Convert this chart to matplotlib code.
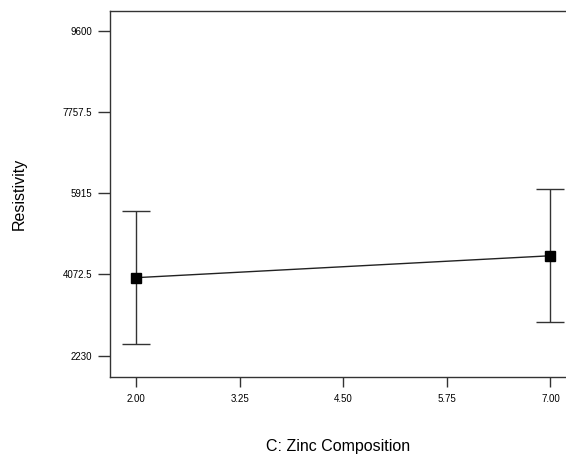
import matplotlib
matplotlib.use("Agg")
import matplotlib.pyplot as plt
import numpy as np

plt.rcParams['font.family'] = ['Liberation Sans', 'DejaVu Sans']

zinc = [2.0, 7.0]
resistivity = [4000, 4497]
ci_low = [2491, 2997]
ci_high = [5509, 6001]
xticks = [2.00, 3.25, 4.50, 5.75, 7.00]
xtick_labels = ["2.00", "3.25", "4.50", "5.75", "7.00"]
yticks = [2230, 4072.5, 5915, 7757.5, 9600]
ytick_labels = ["2230", "4072.5", "5915", "7757.5", "9600"]

fig = plt.figure(figsize=(5.66, 4.57), dpi=100)
ax = fig.add_axes([110/566, 80/457, 456/566, 366.5/457])

y = np.array(resistivity)
yerr = [y - np.array(ci_low), np.array(ci_high) - y]
ax.errorbar(zinc, resistivity, yerr=yerr, fmt='none', ecolor='#333333',
            elinewidth=1, capsize=10, capthick=1, zorder=2)
ax.plot(zinc, resistivity, color='#222222', lw=1, zorder=3)
ax.plot(zinc, resistivity, 's', color='black', markersize=7, zorder=4)

ax.set_xlim(1.686, 7.187)
ax.set_ylim(1747, 10060)
ax.set_xticks(xticks)
ax.set_xticklabels(xtick_labels)
ax.set_yticks(yticks)
ax.set_yticklabels(ytick_labels)
ax.tick_params(axis='y', length=9, width=1, color='#333333', pad=4, labelsize=7)
ax.tick_params(axis='x', length=7, width=1, color='#333333', pad=5, labelsize=7)
ax.spines['right'].set_visible(False)
for s in ['left', 'top', 'bottom']:
    ax.spines[s].set_color('#333333')
    ax.spines[s].set_linewidth(1)

ax.set_xlabel("C: Zinc Composition", fontsize=11.5, va='center')
ax.xaxis.set_label_coords(0.5, -70/366.5)
ax.set_ylabel("Resistivity", fontsize=11.5, va='center')
ax.yaxis.set_label_coords(-91/456, 0.5)

fig.savefig("out.png", dpi=100)
